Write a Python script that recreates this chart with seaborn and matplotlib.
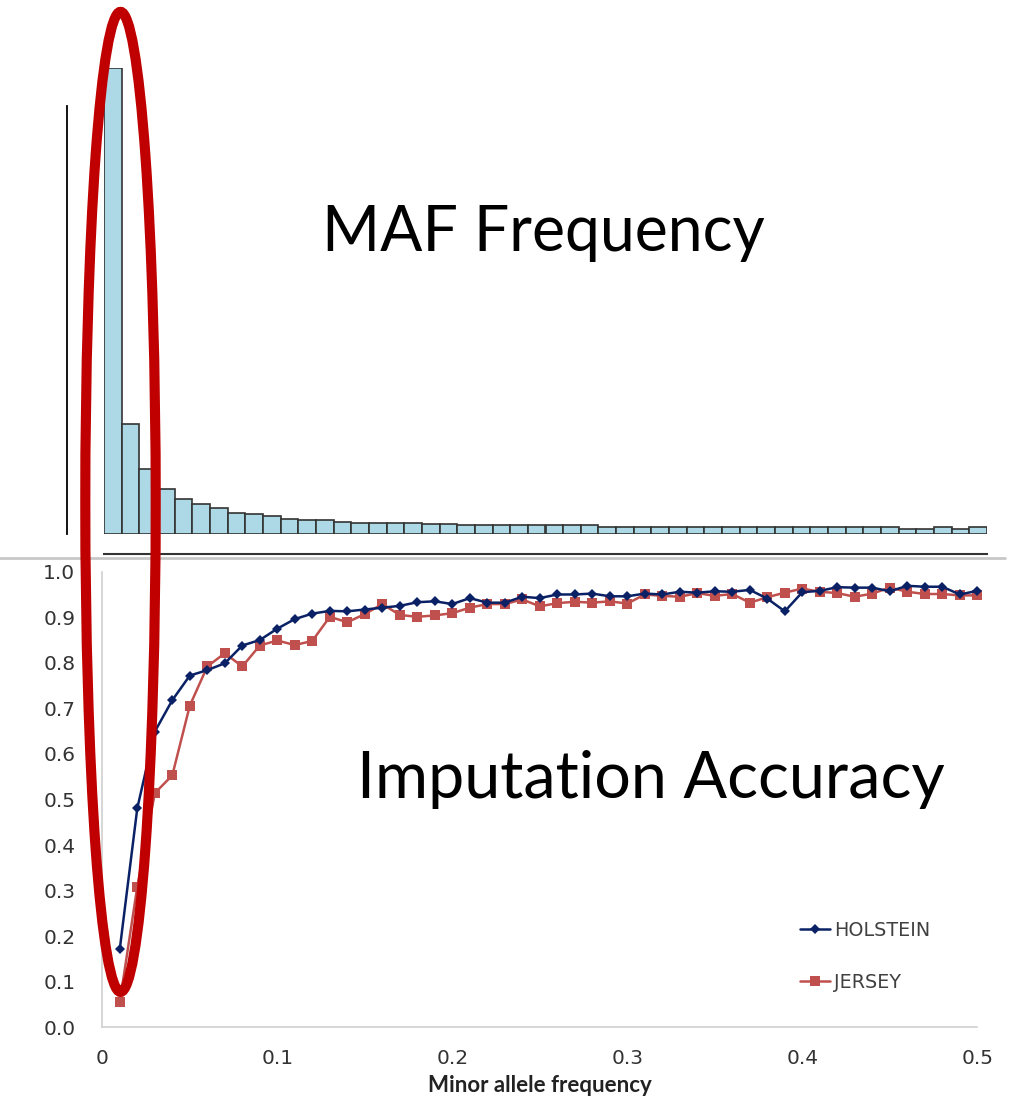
import numpy as np
import pandas as pd
import matplotlib
matplotlib.use("Agg")
import matplotlib.pyplot as plt
import seaborn as sns
from matplotlib.patches import Ellipse
from matplotlib.lines import Line2D

# ---- data -------------------------------------------------------------
# Share of SNPs (%) in each 0.01-wide minor-allele-frequency bin, 0 - 0.5
maf_bin_pct = [40.1, 9.5, 5.6, 3.9, 3.0, 2.55, 2.2, 1.85, 1.7, 1.55,
               1.3, 1.2, 1.2, 1.05, 0.95, 0.95, 0.95, 0.95, 0.85, 0.85,
               0.74, 0.74, 0.74, 0.74, 0.74, 0.74, 0.74, 0.74, 0.6, 0.6,
               0.6, 0.6, 0.6, 0.6, 0.6, 0.6, 0.6, 0.6, 0.6, 0.6,
               0.6, 0.6, 0.6, 0.6, 0.6, 0.46, 0.46, 0.6, 0.46, 0.6]

# Imputation accuracy by minor allele frequency class (0.01 ... 0.50)
maf_class = np.round(np.arange(1, 51) * 0.01, 2)
holstein = [0.172, 0.481, 0.649, 0.718, 0.772, 0.784, 0.799, 0.838, 0.850, 0.875,
            0.896, 0.908, 0.914, 0.913, 0.917, 0.921, 0.925, 0.933, 0.935, 0.929,
            0.942, 0.932, 0.932, 0.945, 0.942, 0.950, 0.950, 0.952, 0.946, 0.946,
            0.952, 0.950, 0.956, 0.954, 0.957, 0.956, 0.960, 0.941, 0.913, 0.955,
            0.958, 0.966, 0.965, 0.965, 0.957, 0.969, 0.967, 0.967, 0.950, 0.958]
jersey = [0.055, 0.309, 0.514, 0.553, 0.706, 0.792, 0.821, 0.792, 0.838, 0.849,
          0.839, 0.848, 0.901, 0.889, 0.907, 0.929, 0.905, 0.901, 0.904, 0.909,
          0.921, 0.929, 0.929, 0.939, 0.924, 0.931, 0.934, 0.932, 0.935, 0.930,
          0.950, 0.947, 0.945, 0.953, 0.947, 0.951, 0.932, 0.944, 0.954, 0.963,
          0.956, 0.953, 0.945, 0.952, 0.965, 0.956, 0.951, 0.951, 0.948, 0.948]

x_ticks = [0, 0.1, 0.2, 0.3, 0.4, 0.5]
x_tick_labels = ["0", "0.1", "0.2", "0.3", "0.4", "0.5"]
y_ticks = [round(0.1 * i, 1) for i in range(11)]
y_tick_labels = [f"{v:.1f}" for v in y_ticks]

# ---- figure -------------------------------------------------------------
W, H = 1017, 1097
DPI = 100
PT = 72 / DPI  # points per pixel
sns.set_style("white")
plt.rcParams["font.family"] = ["DejaVu Sans"]
fig = plt.figure(figsize=(W / DPI, H / DPI), dpi=DPI)


def fx(px):
    return px / W


def fy(py):
    return 1 - py / H


# ---- MAF histogram (top) ----
ax_h = fig.add_axes([fx(104), fy(534), (987 - 104) / W, (534 - 68.3) / H])
n_bins = len(maf_bin_pct)
bin_w = 0.5 / n_bins
hist_df = pd.DataFrame({"maf": (np.arange(n_bins) + 0.5) * bin_w, "pct": maf_bin_pct})
sns.histplot(data=hist_df, x="maf", weights="pct", bins=n_bins, binrange=(0, 0.5),
             ax=ax_h, color="#add8e6", edgecolor="#333333", linewidth=1.2, alpha=1)
ax_h.set_xlim(0, 0.5)
ax_h.set_ylim(0, max(maf_bin_pct))
ax_h.set_xlabel("")
ax_h.set_ylabel("")
for s in ["top", "right"]:
    ax_h.spines[s].set_visible(False)
ax_h.spines["bottom"].set_position(("outward", 20 * PT))
ax_h.spines["bottom"].set_color("#333333")
ax_h.spines["bottom"].set_linewidth(1.5)
ax_h.spines["left"].set_position(("outward", 37 * PT))
ax_h.spines["left"].set_color("black")
ax_h.spines["left"].set_linewidth(1.3)
ax_h.spines["left"].set_bounds(0, max(maf_bin_pct) * 428.3 / 465.7)
ax_h.set_xticks(x_ticks)
ax_h.set_xticklabels([])
ax_h.tick_params(axis="x", direction="in", length=3 * PT, width=1, color="#333333")
ax_h.set_yticks([])

# ---- imputation accuracy (bottom) ----
ax = fig.add_axes([fx(102.3), fy(1027.3), (977.3 - 102.3) / W, (1027.3 - 571.7) / H])
sns.lineplot(x=maf_class, y=holstein, ax=ax, color="#0b2165", linewidth=1.8,
             marker="D", markersize=5.5, markeredgewidth=0, label="HOLSTEIN",
             clip_on=False, zorder=3)
sns.lineplot(x=maf_class, y=jersey, ax=ax, color="#c0504d", linewidth=1.8,
             marker="s", markersize=7.5, markeredgewidth=0, label="JERSEY",
             clip_on=False, zorder=2)
ax.set_xlim(0, 0.5)
ax.set_ylim(0, 1.0)
ax.set_xticks(x_ticks)
ax.set_xticklabels(x_tick_labels, fontsize=14.5, color="#333333")
ax.set_yticks(y_ticks)
ax.set_yticklabels(y_tick_labels, fontsize=14.5, color="#333333")
ax.tick_params(axis="x", direction="out", length=6 * PT, width=1, color="#d0d0d0",
               pad=16 * PT)
ax.tick_params(axis="y", direction="out", length=9 * PT, width=1, color="#d0d0d0",
               pad=18 * PT)
for s in ["top", "right"]:
    ax.spines[s].set_visible(False)
for s in ["left", "bottom"]:
    ax.spines[s].set_color("#d0d0d0")
    ax.spines[s].set_linewidth(1.2)
ax.set_xlabel("Minor allele frequency", fontsize=16, fontweight="bold",
              family=["Lato", "DejaVu Sans"], color="#222222", labelpad=5)
ax.set_ylabel("")

handles, labels = ax.get_legend_handles_labels()
ax.legend(handles, labels, loc="upper left",
          bbox_to_anchor=(fx(800), fy(921)), bbox_transform=fig.transFigure,
          frameon=False, fontsize=13.8, handlelength=1.56, handletextpad=0.2,
          labelspacing=1.7, borderpad=0, borderaxespad=0, labelcolor="#404040")

# ---- panel separator ----
fig.add_artist(Line2D([0, fx(1005)], [fy(557.5), fy(557.5)], color="#c8c8c8",
                      linewidth=2, transform=fig.transFigure))

# ---- slide captions ----
fig.text(fx(543.5), fy(251), "MAF Frequency", ha="center", va="baseline",
         fontsize=45, family=["Lato", "DejaVu Sans"], color="black")
fig.text(fx(651), fy(798), "Imputation Accuracy", ha="center", va="baseline",
         fontsize=46.5, family=["Lato", "DejaVu Sans"], color="black")

# ---- highlight of the rare-variant bins ----
fig.add_artist(Ellipse((fx(120.5), fy(501.9)), width=70.4 / W, height=980 / H,
                       transform=fig.transFigure, fill=False,
                       edgecolor="#c00000", linewidth=7.3, zorder=10))

fig.savefig("out.png", dpi=DPI)
